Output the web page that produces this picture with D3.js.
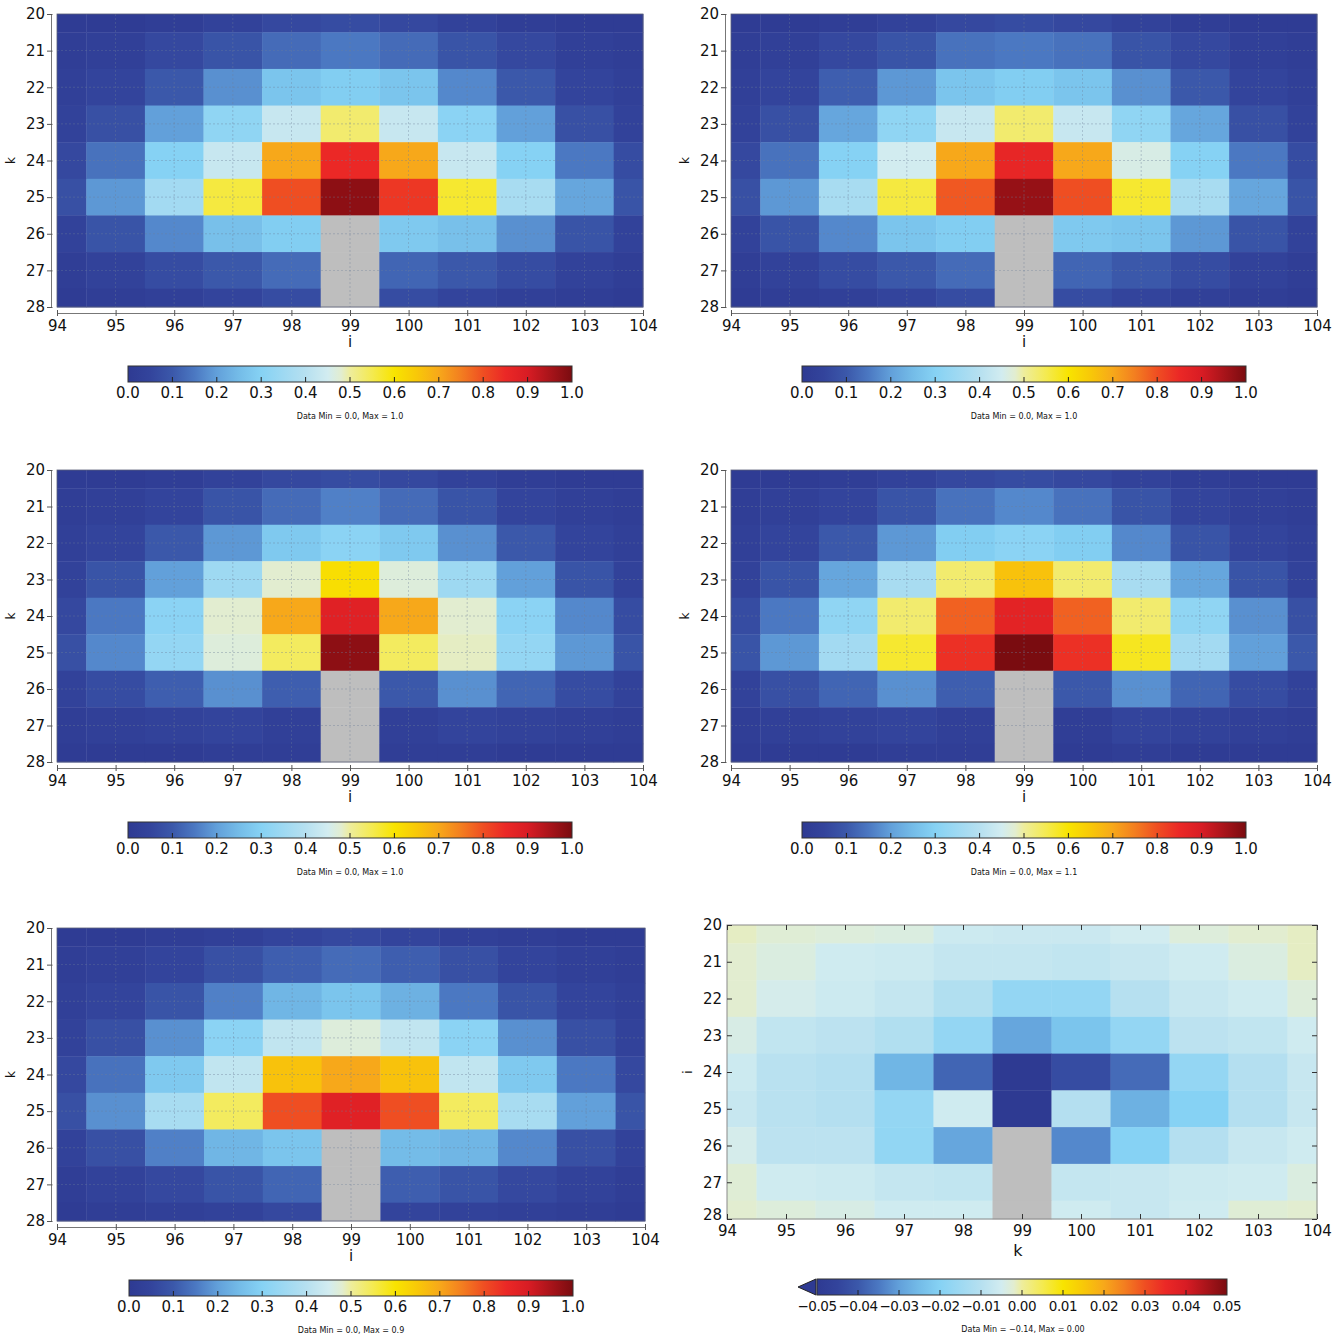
<!DOCTYPE html>
<html>
<head>
<meta charset="utf-8">
<script src="https://cdn.jsdelivr.net/npm/d3@7"></script>
<style>
  body { margin: 0; background: #fff; }
  svg { display: block; }
  text { font-family: "DejaVu Sans", Verdana, sans-serif; fill: #111; }
</style>
</head>
<body>
<svg id="chart" width="1343" height="1336"></svg>
<script>
// ---- grid coordinates ----
const iCoords = [94, 95, 96, 97, 98, 99, 100, 101, 102, 103, 104];
const kCoords = [20, 21, 22, 23, 24, 25, 26, 27, 28];

// ---- colour bar tick labels ----
const unitTicks = [0.0, 0.1, 0.2, 0.3, 0.4, 0.5, 0.6, 0.7, 0.8, 0.9, 1.0];
const diffTicks = [-0.05, -0.04, -0.03, -0.02, -0.01, 0.00, 0.01, 0.02, 0.03, 0.04, 0.05];

// ---- colour map (position in [0,1] -> colour) ----
const cmapPos = [0.00, 0.05, 0.10, 0.15, 0.20, 0.25, 0.30, 0.40, 0.45, 0.48, 0.50, 0.55, 0.60, 0.65, 0.70, 0.75, 0.80, 0.85, 0.90, 1.00];
const cmapCol = ["#2e3a92", "#33449c", "#3b58aa", "#4b78c2", "#62a0da", "#74bce8", "#86d2f4", "#b6e0f0", "#d2ecf0", "#e2edd0",
                 "#eeed9c", "#f4ea50", "#f8e400", "#f8c808", "#f7a81a", "#f37e20", "#ef4e22", "#eb2826", "#d81c24", "#7a0c10"];
const missingColor = "#bebebe";

// ---- fields: rows are k = 20..28, columns are i = 94..104; null = missing ----
const N = null;
const fieldA = [
  [0.01, 0.01, 0.02, 0.04, 0.06, 0.07, 0.06, 0.04, 0.02, 0.01, 0.01],
  [0.02, 0.03, 0.06, 0.09, 0.13, 0.15, 0.13, 0.09, 0.06, 0.03, 0.02],
  [0.03, 0.05, 0.10, 0.18, 0.27, 0.29, 0.27, 0.17, 0.10, 0.05, 0.03],
  [0.04, 0.08, 0.20, 0.32, 0.43, 0.53, 0.43, 0.31, 0.20, 0.08, 0.04],
  [0.06, 0.14, 0.30, 0.43, 0.70, 0.85, 0.70, 0.43, 0.30, 0.15, 0.07],
  [0.08, 0.19, 0.36, 0.56, 0.80, 0.98, 0.83, 0.57, 0.37, 0.21, 0.09],
  [0.04, 0.09, 0.17, 0.26, 0.29, N,    0.28, 0.26, 0.18, 0.09, 0.04],
  [0.02, 0.04, 0.07, 0.10, 0.13, N,    0.12, 0.10, 0.07, 0.04, 0.02],
  [0.01, 0.02, 0.03, 0.05, 0.07, N,    0.07, 0.05, 0.03, 0.02, 0.01]
];
const fieldB = [
  [0.01, 0.01, 0.02, 0.04, 0.06, 0.07, 0.06, 0.04, 0.02, 0.01, 0.01],
  [0.02, 0.03, 0.06, 0.09, 0.14, 0.15, 0.14, 0.09, 0.06, 0.03, 0.02],
  [0.03, 0.05, 0.11, 0.19, 0.27, 0.29, 0.27, 0.18, 0.10, 0.05, 0.03],
  [0.04, 0.08, 0.21, 0.32, 0.43, 0.53, 0.43, 0.32, 0.21, 0.08, 0.04],
  [0.06, 0.14, 0.30, 0.45, 0.70, 0.86, 0.70, 0.46, 0.30, 0.15, 0.07],
  [0.08, 0.19, 0.37, 0.56, 0.79, 0.97, 0.80, 0.57, 0.37, 0.21, 0.09],
  [0.04, 0.09, 0.17, 0.27, 0.29, N,    0.28, 0.27, 0.19, 0.09, 0.04],
  [0.02, 0.04, 0.07, 0.10, 0.13, N,    0.12, 0.10, 0.07, 0.04, 0.02],
  [0.01, 0.02, 0.03, 0.05, 0.07, N,    0.07, 0.05, 0.03, 0.02, 0.01]
];
const fieldC = [
  [0.01, 0.01, 0.02, 0.04, 0.06, 0.07, 0.06, 0.04, 0.02, 0.01, 0.01],
  [0.02, 0.03, 0.05, 0.09, 0.13, 0.16, 0.13, 0.09, 0.05, 0.03, 0.02],
  [0.03, 0.05, 0.10, 0.19, 0.28, 0.31, 0.28, 0.18, 0.10, 0.05, 0.03],
  [0.04, 0.09, 0.20, 0.35, 0.48, 0.61, 0.47, 0.35, 0.20, 0.09, 0.04],
  [0.06, 0.15, 0.31, 0.48, 0.70, 0.88, 0.70, 0.48, 0.31, 0.17, 0.07],
  [0.08, 0.17, 0.33, 0.47, 0.54, 0.98, 0.54, 0.485, 0.33, 0.19, 0.09],
  [0.04, 0.07, 0.11, 0.18, 0.11, N,    0.10, 0.18, 0.12, 0.07, 0.04],
  [0.02, 0.03, 0.04, 0.05, 0.03, N,    0.03, 0.05, 0.04, 0.03, 0.02],
  [0.01, 0.01, 0.01, 0.02, 0.02, N,    0.02, 0.02, 0.01, 0.01, 0.01]
];
const fieldD = [
  [0.01, 0.01, 0.02, 0.04, 0.06, 0.07, 0.06, 0.04, 0.02, 0.01, 0.01],
  [0.02, 0.03, 0.05, 0.09, 0.14, 0.17, 0.14, 0.09, 0.05, 0.03, 0.02],
  [0.03, 0.05, 0.10, 0.19, 0.29, 0.31, 0.29, 0.17, 0.09, 0.05, 0.03],
  [0.04, 0.09, 0.21, 0.37, 0.53, 0.66, 0.53, 0.37, 0.21, 0.09, 0.04],
  [0.07, 0.15, 0.32, 0.53, 0.78, 0.87, 0.78, 0.53, 0.32, 0.18, 0.08],
  [0.09, 0.19, 0.36, 0.57, 0.84, 1.05, 0.84, 0.58, 0.36, 0.20, 0.10],
  [0.04, 0.08, 0.12, 0.18, 0.11, N,    0.10, 0.18, 0.12, 0.07, 0.04],
  [0.02, 0.03, 0.04, 0.05, 0.03, N,    0.02, 0.05, 0.04, 0.03, 0.02],
  [0.01, 0.01, 0.01, 0.02, 0.02, N,    0.01, 0.02, 0.01, 0.01, 0.01]
];
const fieldE = [
  [0.01, 0.01, 0.02, 0.03, 0.05, 0.06, 0.05, 0.03, 0.02, 0.01, 0.01],
  [0.02, 0.03, 0.05, 0.08, 0.11, 0.13, 0.11, 0.08, 0.05, 0.03, 0.02],
  [0.03, 0.05, 0.09, 0.16, 0.24, 0.27, 0.23, 0.15, 0.09, 0.05, 0.03],
  [0.04, 0.08, 0.18, 0.31, 0.42, 0.47, 0.42, 0.31, 0.18, 0.08, 0.04],
  [0.06, 0.14, 0.28, 0.42, 0.66, 0.70, 0.66, 0.42, 0.28, 0.15, 0.06],
  [0.08, 0.18, 0.37, 0.54, 0.80, 0.88, 0.80, 0.54, 0.37, 0.20, 0.09],
  [0.04, 0.08, 0.16, 0.24, 0.27, N,    0.25, 0.24, 0.17, 0.08, 0.04],
  [0.02, 0.04, 0.06, 0.09, 0.12, N,    0.11, 0.09, 0.06, 0.04, 0.02],
  [0.01, 0.02, 0.03, 0.04, 0.06, N,    0.05, 0.04, 0.03, 0.02, 0.01]
];
// difference field (rows i = 20..28, columns k = 94..104)
const fieldDiff = [
  [-0.0015, -0.0025, -0.0030, -0.0035, -0.0060, -0.0065, -0.0065, -0.0050, -0.0030, -0.0020, -0.0015],
  [-0.0020, -0.0035, -0.0055, -0.0060, -0.0075, -0.0075, -0.0080, -0.0070, -0.0055, -0.0035, -0.0015],
  [-0.0020, -0.0045, -0.0060, -0.0075, -0.0110, -0.0170, -0.0170, -0.0100, -0.0070, -0.0055, -0.0030],
  [-0.0040, -0.0080, -0.0090, -0.0110, -0.0170, -0.0290, -0.0230, -0.0170, -0.0090, -0.0080, -0.0055],
  [-0.0060, -0.0095, -0.0105, -0.0260, -0.0380, -0.0900, -0.0430, -0.0370, -0.0170, -0.0105, -0.0070],
  [-0.0070, -0.0095, -0.0105, -0.0170, -0.0055, -0.1400, -0.0105, -0.0270, -0.0200, -0.0105, -0.0070],
  [-0.0045, -0.0090, -0.0090, -0.0175, -0.0290, N,       -0.0330, -0.0200, -0.0105, -0.0070, -0.0055],
  [-0.0025, -0.0055, -0.0060, -0.0075, -0.0080, N,       -0.0075, -0.0070, -0.0060, -0.0055, -0.0035],
  [-0.0020, -0.0030, -0.0040, -0.0055, -0.0055, N,       -0.0055, -0.0070, -0.0055, -0.0025, -0.0020]
];

const captions = [
  "Data Min = 0.0, Max = 1.0",
  "Data Min = 0.0, Max = 1.0",
  "Data Min = 0.0, Max = 1.0",
  "Data Min = 0.0, Max = 1.1",
  "Data Min = 0.0, Max = 0.9",
  "Data Min = \u22120.14, Max = 0.00"
];

// ---- drawing ----
const svg = d3.select("#chart");
const cmap = d3.scaleLinear().domain(cmapPos).range(cmapCol).interpolate(d3.interpolateRgb).clamp(true);
const FONT = 15;

// shared gradient for the colour bars
const grad = svg.append("defs").append("linearGradient").attr("id", "cbar")
  .attr("x1", "0%").attr("x2", "100%").attr("y1", "0%").attr("y2", "0%");
cmapPos.forEach((p, j) => grad.append("stop").attr("offset", (p * 100) + "%").attr("stop-color", cmapCol[j]));

const panels = [
  { field: fieldA, range: [0, 1], ticks: unitTicks, fmt: ".1f", box: [57, 14, 643, 307], xLabel: "i", yLabel: "k", style: "offset", caption: captions[0] },
  { field: fieldB, range: [0, 1], ticks: unitTicks, fmt: ".1f", box: [731, 14, 1317, 307], xLabel: "i", yLabel: "k", style: "offset", caption: captions[1] },
  { field: fieldC, range: [0, 1], ticks: unitTicks, fmt: ".1f", box: [57, 470, 643, 762], xLabel: "i", yLabel: "k", style: "offset", caption: captions[2] },
  { field: fieldD, range: [0, 1], ticks: unitTicks, fmt: ".1f", box: [731, 470, 1317, 762], xLabel: "i", yLabel: "k", style: "offset", caption: captions[3] },
  { field: fieldE, range: [0, 1], ticks: unitTicks, fmt: ".1f", box: [57, 928, 645, 1221], xLabel: "i", yLabel: "k", style: "offset", caption: captions[4] },
  { field: fieldDiff, range: [-0.05, 0.05], ticks: diffTicks, fmt: ".2f", box: [727, 925, 1317, 1219], xLabel: "k", yLabel: "i", style: "boxed", caption: captions[5], extendLow: true }
];

function styleTexts(sel) {
  sel.selectAll("text").attr("font-size", FONT).attr("fill", "#111").style("font-family", "DejaVu Sans, sans-serif");
}

function drawPanel(p) {
  const [x0, y0, x1, y1] = p.box;
  const x = d3.scaleLinear().domain([iCoords[0], iCoords[iCoords.length - 1]]).range([x0, x1]);
  const y = d3.scaleLinear().domain([kCoords[0], kCoords[kCoords.length - 1]]).range([y0, y1]);
  const norm = d3.scaleLinear().domain(p.range).range([0, 1]);
  const g = svg.append("g");

  // cells: centred on integer coordinates, clipped to the axis extent
  const cells = [];
  p.field.forEach((row, r) => row.forEach((v, c) => cells.push({ i: iCoords[c], k: kCoords[r], v })));
  const xa = d => x(Math.max(iCoords[0], d.i - 0.5));
  const xb = d => x(Math.min(iCoords[iCoords.length - 1], d.i + 0.5));
  const ya = d => y(Math.max(kCoords[0], d.k - 0.5));
  const yb = d => y(Math.min(kCoords[kCoords.length - 1], d.k + 0.5));
  g.selectAll("rect.cell").data(cells).join("rect")
    .attr("class", "cell")
    .attr("x", xa).attr("y", ya)
    .attr("width", d => xb(d) - xa(d) + 0.4)
    .attr("height", d => yb(d) - ya(d) + 0.4)
    .attr("fill", d => d.v === null ? missingColor : cmap(norm(d.v)));

  const cx = (x0 + x1) / 2, cy = (y0 + y1) / 2;

  if (p.style === "offset") {
    // dashed grid
    g.append("g").selectAll("line").data(iCoords.slice(1, -1)).join("line")
      .attr("x1", d => x(d)).attr("x2", d => x(d)).attr("y1", y0).attr("y2", y1)
      .attr("stroke", "#6f7f99").attr("stroke-width", 0.7).attr("stroke-dasharray", "2,2").attr("opacity", 0.55);
    g.append("g").selectAll("line").data(kCoords.slice(1, -1)).join("line")
      .attr("y1", d => y(d)).attr("y2", d => y(d)).attr("x1", x0).attr("x2", x1)
      .attr("stroke", "#6f7f99").attr("stroke-width", 0.7).attr("stroke-dasharray", "2,2").attr("opacity", 0.55);
    g.append("rect").attr("x", x0).attr("y", y0).attr("width", x1 - x0).attr("height", y1 - y0)
      .attr("fill", "none").attr("stroke", "#5a5f78").attr("stroke-width", 0.8);

    // detached axes
    const ax = g.append("g").attr("transform", `translate(0,${y1 + 6})`)
      .call(d3.axisBottom(x).tickValues(iCoords).tickFormat(d3.format("d")).tickSize(3).tickSizeOuter(0).tickPadding(4));
    ax.selectAll(".tick line").attr("y1", -3);
    const ay = g.append("g").attr("transform", `translate(${x0 - 6},0)`)
      .call(d3.axisLeft(y).tickValues(kCoords).tickFormat(d3.format("d")).tickSize(4).tickSizeOuter(0).tickPadding(2));
    ay.selectAll(".tick line").attr("x1", 1.5);
    [ax, ay].forEach(a => {
      a.select(".domain").attr("stroke", "#777");
      a.selectAll(".tick line").attr("stroke", "#555");
      styleTexts(a);
    });
    g.append("text").attr("x", cx).attr("y", y1 + 40).attr("text-anchor", "middle").attr("font-size", FONT).text(p.xLabel);
    g.append("text").attr("transform", `translate(${x0 - 42},${cy}) rotate(-90)`).attr("text-anchor", "middle")
      .attr("font-size", 12).text(p.yLabel);
  } else {
    g.append("rect").attr("x", x0).attr("y", y0).attr("width", x1 - x0).attr("height", y1 - y0)
      .attr("fill", "none").attr("stroke", "#8a8a8a").attr("stroke-width", 1);
    const mk = (axis, tx, ty, labels) => {
      const a = g.append("g").attr("transform", `translate(${tx},${ty})`).call(axis);
      a.select(".domain").remove();
      a.selectAll(".tick line").attr("stroke", "#333");
      if (!labels) a.selectAll("text").remove();
      styleTexts(a);
      return a;
    };
    mk(d3.axisBottom(x).tickValues(iCoords).tickFormat(d3.format("d")).tickSize(-5).tickPadding(6), 0, y1, true);
    mk(d3.axisTop(x).tickValues(iCoords).tickSize(-5), 0, y0, false);
    const left = mk(d3.axisLeft(y).tickValues(kCoords).tickFormat(d3.format("d")).tickSize(-5).tickPadding(5), x0, 0, true);
    // lift the bottom-most row label clear of the first column label
    left.selectAll(".tick text").filter(d => d === kCoords[kCoords.length - 1]).attr("y", -4);
    mk(d3.axisRight(y).tickValues(kCoords).tickSize(-5), x1, 0, false);
    g.append("text").attr("x", cx - 4).attr("y", y1 + 37).attr("text-anchor", "middle").attr("font-size", 16).text(p.xLabel);
    g.append("text").attr("transform", `translate(${x0 - 35},${cy}) rotate(-90)`).attr("text-anchor", "middle")
      .attr("font-size", 12).text(p.yLabel);
  }

  // colour bar
  let bx0, bx1, by;
  if (p.extendLow) { bx0 = 817; bx1 = 1227; by = y1 + 60; }
  else { bx0 = cx - 222; bx1 = cx + 222; by = y0 + 352; }
  const bh = 16;
  const cb = d3.scaleLinear().domain(p.range).range([bx0, bx1]);
  if (p.extendLow) {
    g.append("path").attr("d", `M${bx0 - 19},${by + bh / 2}L${bx0 - 1},${by}L${bx0 - 1},${by + bh}Z`)
      .attr("fill", cmap(0)).attr("stroke", "#222").attr("stroke-width", 1);
  }
  g.append("rect").attr("x", bx0).attr("y", by).attr("width", bx1 - bx0).attr("height", bh)
    .attr("fill", "url(#cbar)").attr("stroke", "#333").attr("stroke-width", 1);
  g.append("g").selectAll("line").data(p.ticks.slice(1, -1)).join("line")
    .attr("x1", d => cb(d)).attr("x2", d => cb(d)).attr("y1", by + bh).attr("y2", by + bh - 5)
    .attr("stroke", "#222").attr("stroke-width", 1);
  const f = d3.format(p.fmt);
  // the signed labels are wider, so they are set a little tighter
  const tight = p.extendLow;
  g.append("g").selectAll("text").data(p.ticks).join("text")
    .attr("x", d => cb(d)).attr("y", by + bh + 16).attr("text-anchor", "middle")
    .attr("font-size", tight ? 13.5 : FONT)
    .attr("letter-spacing", tight ? -0.45 : null)
    .text(d => f(d));
  g.append("text").attr("x", p.extendLow ? 1023 : cx).attr("y", Math.min(by + bh + 37, 1333)).attr("text-anchor", "middle")
    .attr("font-size", 8).attr("fill", "#222").text(p.caption);
}

panels.forEach(drawPanel);
</script>
</body>
</html>
